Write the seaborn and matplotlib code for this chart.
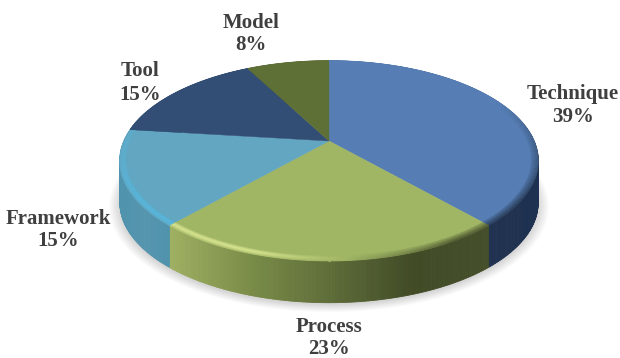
import numpy as np
import matplotlib
matplotlib.use("Agg")
import matplotlib.pyplot as plt
from matplotlib.collections import LineCollection, PolyCollection
from matplotlib.colors import to_rgb
import seaborn as sns

categories = ["Technique", "Process", "Framework", "Tool", "Model"]
counts = [5, 3, 2, 2, 1]
percent_labels = ["39%", "23%", "15%", "15%", "8%"]
top_colors = ["#567EB5", "#A1B665", "#62A6C1", "#334E74", "#5F7037"]
glow_colors = ["#567EB5", "#D6E38E", "#58B8DE", "#334E74", "#5F7037"]
side_stops = [
    ["#2A4065", "#22344F", "#1F3150"],
    ["#9FB062", "#7A8C48", "#5F6D39", "#414C27", "#444E29"],
    ["#4F93AD", "#5795AE", "#4F93AD"],
    ["#2A4061", "#2A4061"],
    ["#4E5C2D", "#4E5C2D"],
]
label_xy = [(573, 105), (329, 338), (58, 230), (140, 83), (251, 34)]

sns.set_theme(style="white")
plt.rcParams["font.family"] = ["Liberation Serif", "DejaVu Serif"]
fig = plt.figure(figsize=(6.2, 3.58), dpi=100)
ax = fig.add_axes([0, 0, 1, 1])
ax.set_xlim(0, 620)
ax.set_ylim(358, 0)
ax.axis("off")

CX, CY, A, B, K, H = 329.0, 141.0, 96.0, 205.0, 0.198, 42.0


def project(theta, r=1.0, dy=0.0):
    u, v = r * np.sin(theta), r * np.cos(theta)
    d = 1 + K * v
    return CX + B * u / d, CY - A * v / d + dy


shares = np.array(counts) / np.sum(counts)
edges = np.concatenate([[0], np.cumsum(shares)]) * 2 * np.pi

# soft shadow below the disc
full = np.linspace(0, 2 * np.pi, 361)
for grow in np.linspace(1.05, 1.0, 14):
    x, y = project(full, grow, H + 2)
    ax.fill(x, y, color="black", alpha=0.012, lw=0, zorder=1)

# side wall
for i, (a0, a1) in enumerate(zip(edges[:-1], edges[1:])):
    n = max(4, int((a1 - a0) * 90))
    th = np.linspace(a0, a1, n + 1)
    x, y = project(th)
    xb, yb = project(th, 1.0, H)
    pal = sns.blend_palette(side_stops[i], n_colors=256)
    lo, hi = x.min(), x.max()
    quads, cols = [], []
    for j in range(n):
        quads.append([(x[j], y[j]), (x[j + 1], y[j + 1]),
                      (xb[j + 1], yb[j + 1]), (xb[j], yb[j])])
        f = (0.5 * (x[j] + x[j + 1]) - lo) / max(hi - lo, 1)
        cols.append(pal[int(np.clip(f, 0, 1) * 255)])
    ax.add_collection(PolyCollection(quads, facecolors=cols, edgecolors=cols,
                                     linewidths=0.6, zorder=2))

# top face
for i, (a0, a1) in enumerate(zip(edges[:-1], edges[1:])):
    th = np.linspace(a0, a1, 200)
    x, y = project(th)
    ax.fill(np.r_[CX, x], np.r_[CY, y], color=top_colors[i],
            lw=0.3, ec=top_colors[i], zorder=3)

# bevel along the front rim
rings = np.linspace(0.97, 1.0, 8)
for i, (a0, a1) in enumerate(zip(edges[:-1], edges[1:])):
    base = np.array(to_rgb(top_colors[i]))
    glow = np.array(to_rgb(glow_colors[i]))
    th = np.linspace(a0, a1, 160)
    for r in rings:
        depth = (r - rings[0]) / (rings[-1] - rings[0])
        x, y = project(th, r)
        pts = np.column_stack([x, y])
        segs = np.stack([pts[:-1], pts[1:]], axis=1)
        mx = 0.5 * (x[:-1] + x[1:])
        front = np.clip(-np.cos(0.5 * (th[:-1] + th[1:])) + 0.45, 0, 1)
        cols = []
        for f, px in zip(front, mx):
            bump = np.sin(np.pi * min(depth * 0.8 + 0.1, 1))
            if px < 345:
                s = np.clip((345 - px) / 90, 0, 1) * f * bump
                c = base + (glow - base) * s
            else:
                s = np.clip((px - 345) / 110, 0, 1) * f * (0.25 + 0.75 * depth)
                c = base * (1 - 0.5 * s)
            cols.append(np.clip(c, 0, 1))
        ax.add_collection(LineCollection(segs, colors=cols, linewidths=0.9,
                                         zorder=4, capstyle="butt"))

# labels
for name, pct, (lx, ly) in zip(categories, percent_labels, label_xy):
    ax.text(lx, ly, f"{name}\n{pct}", ha="center", va="center",
            fontsize=15, fontweight="bold", color="#3F3F3F",
            linespacing=1.2, zorder=6)

fig.savefig("out.png", dpi=100, facecolor="white")
